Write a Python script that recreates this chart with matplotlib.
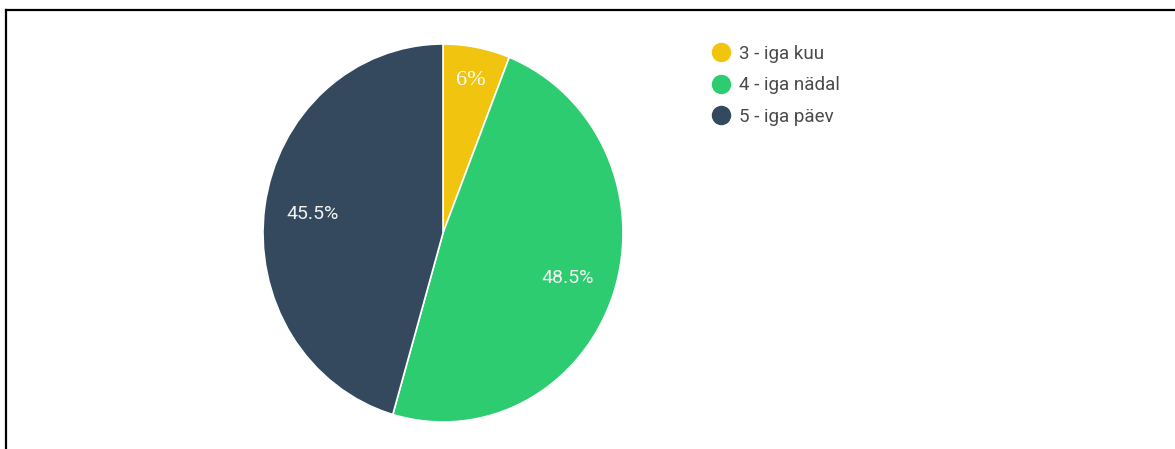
import matplotlib.pyplot as plt
import numpy as np
from matplotlib.lines import Line2D

labels = ["3 - iga kuu", "4 - iga nädal", "5 - iga päev"]
shares = [6.0, 48.5, 45.5]
pct_text = ["6%", "48.5%", "45.5%"]
colors = ["#f1c40f", "#2ecc71", "#34495e"]

W, H = 1175, 449
fig = plt.figure(figsize=(W / 100, H / 100), dpi=100)

# pie box in pixels: left 263, right 623, top 44, bottom 422
ax = fig.add_axes([263 / W, (H - 422) / H, 360 / W, 378 / H])
wedges, _ = ax.pie(shares, colors=colors, startangle=90, counterclock=False,
                   radius=1.0, wedgeprops=dict(edgecolor="white", linewidth=1.2))
ax.set_aspect("auto")
ax.set_xlim(-1, 1)
ax.set_ylim(-1, 1)
ax.axis("off")

# percentage labels inside the slices
dist = [0.82, 0.73, 0.73]
fonts = [dict(family="Liberation Serif", size=16),
         dict(family="Roboto", size=14),
         dict(family="Roboto", size=14)]
cum = np.cumsum([0] + shares)
for i, txt in enumerate(pct_text):
    mid = np.deg2rad(90 - (cum[i] + shares[i] / 2) / 100 * 360)
    ax.text(dist[i] * np.cos(mid), dist[i] * np.sin(mid), txt,
            color="white" if i == 0 else "#f2f2f2",
            ha="center", va="center", **fonts[i])

handles = [Line2D([], [], marker="o", linestyle="", markersize=13,
                  markerfacecolor=c, markeredgecolor=c) for c in colors]
fig.legend(handles, labels, loc="upper left", bbox_to_anchor=(712 / W, 1 - 45 / H),
           frameon=False, borderpad=0, borderaxespad=0, handlelength=1.0,
           handletextpad=0.45, labelspacing=0.72,
           prop=dict(family="Roboto", size=13.5), labelcolor="#4a4a4a")

# outer frame (top and left edges)
fig.add_artist(Line2D([5.5 / W, 1], [1 - 9.5 / H, 1 - 9.5 / H], color="black", linewidth=1.6))
fig.add_artist(Line2D([5.5 / W, 5.5 / W], [0, 1 - 9.5 / H], color="black", linewidth=1.6))

fig.savefig("out.png", dpi=100)
